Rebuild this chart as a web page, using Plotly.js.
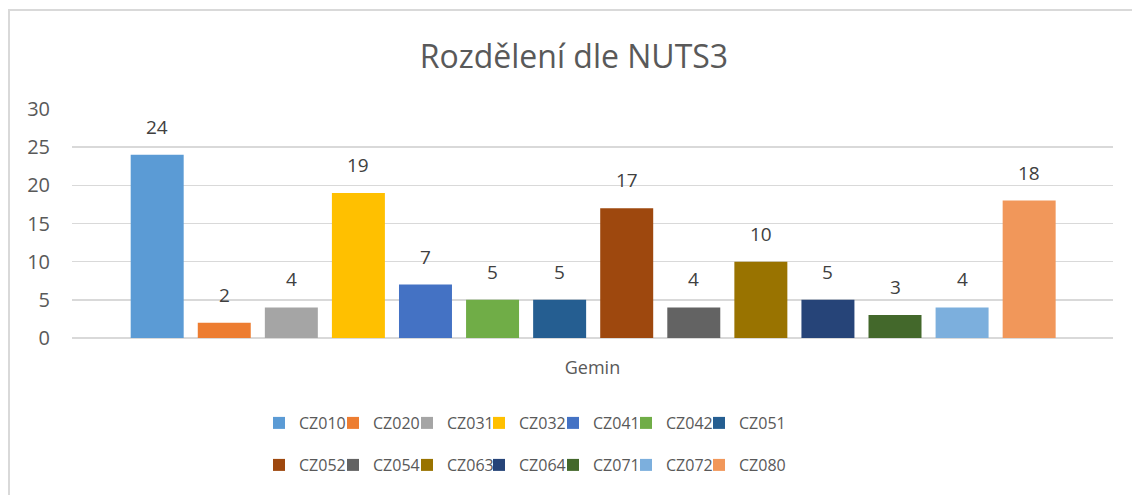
<!DOCTYPE html>
<html>
<head>
<meta charset="utf-8">
<script src="https://cdn.plot.ly/plotly-3.0.1.min.js"></script>
<style>
html,body{margin:0;padding:0;background:#fff;}
#chart{width:1132px;height:495px;}
</style>
</head>
<body>
<div id="chart"></div>
<script>
// Data
var categoryLabel = "Gemin";
var seriesNames = ["CZ010","CZ020","CZ031","CZ032","CZ041","CZ042","CZ051","CZ052","CZ054","CZ063","CZ064","CZ071","CZ072","CZ080"];
var seriesValues = [24, 2, 4, 19, 7, 5, 5, 17, 4, 10, 5, 3, 4, 18];
var seriesColors = ["#5B9BD5","#ED7D31","#A5A5A5","#FFC000","#4472C4","#70AD47","#255E91","#9E480E","#636363","#997300","#264478","#43682B","#7CAFDD","#F1975A"];
var yTickValues = [0, 5, 10, 15, 20, 25, 30];
var chartTitle = "Rozdělení dle NUTS3";

var FONT = "Open Sans, Noto Sans, sans-serif";
var TXT = "#595959";

// legend layout: 7 entries per row, two rows
var legendColumnPx = [259, 333, 407, 479, 553, 626, 699];
var legendRowPx = [423, 465];

var traces = seriesNames.map(function(name, i){
  return {
    type: "bar",
    name: name,
    x: [i],
    y: [seriesValues[i]],
    width: 0.79,
    marker: {color: seriesColors[i], line: {width: 0}},
    legend: i === 0 ? "legend" : "legend" + (i + 1),
    hoverinfo: "name+y"
  };
});

var annotations = seriesNames.map(function(name, i){
  return {
    x: i, y: seriesValues[i], xref: "x", yref: "y",
    text: String(seriesValues[i]),
    showarrow: false, yanchor: "bottom", yshift: 13,
    font: {family: FONT, size: 19, color: "#404040"}
  };
});

var layout = {
  width: 1132, height: 495,
  margin: {l: 72, r: 19, t: 109, b: 157},
  paper_bgcolor: "#ffffff",
  plot_bgcolor: "#ffffff",
  barmode: "overlay",
  showlegend: true,
  title: {
    text: chartTitle,
    font: {family: FONT, size: 32, color: TXT},
    xref: "container", x: 0.507, xanchor: "center",
    yref: "container", y: 0.885, yanchor: "middle"
  },
  xaxis: {
    range: [-1.27, 14.25],
    showticklabels: false,
    showgrid: false, zeroline: false, showline: false, ticks: "",
    title: {text: categoryLabel, font: {family: FONT, size: 18, color: TXT}, standoff: 23},
    fixedrange: true
  },
  yaxis: {
    range: [0, 30],
    tickvals: yTickValues,
    ticktext: yTickValues.map(String),
    showgrid: true, gridcolor: "#d9d9d9", gridwidth: 1.5,
    zeroline: true, zerolinecolor: "#d9d9d9", zerolinewidth: 1.5,
    showline: false, ticks: "",
    ticklabelstandoff: 21,
    tickfont: {family: FONT, size: 20, color: TXT},
    fixedrange: true
  },
  annotations: annotations,
  shapes: [{
    type: "path", xref: "paper", yref: "paper",
    path: "M -0.0605,-0.70 L -0.0605,1.4323 L 1.03,1.4323",
    line: {color: "#d9d9d9", width: 2}
  }]
};

seriesNames.forEach(function(name, i){
  var key = i === 0 ? "legend" : "legend" + (i + 1);
  var col = i % 7, row = Math.floor(i / 7);
  layout[key] = {
    orientation: "h",
    xref: "container", yref: "container",
    xanchor: "left", yanchor: "middle",
    x: legendColumnPx[col] / 1132,
    y: 1 - legendRowPx[row] / 495,
    font: {family: FONT, size: 16, color: TXT},
    bgcolor: "rgba(0,0,0,0)"
  };
});

Plotly.newPlot("chart", traces, layout, {displayModeBar: false, staticPlot: true});
</script>
</body>
</html>
